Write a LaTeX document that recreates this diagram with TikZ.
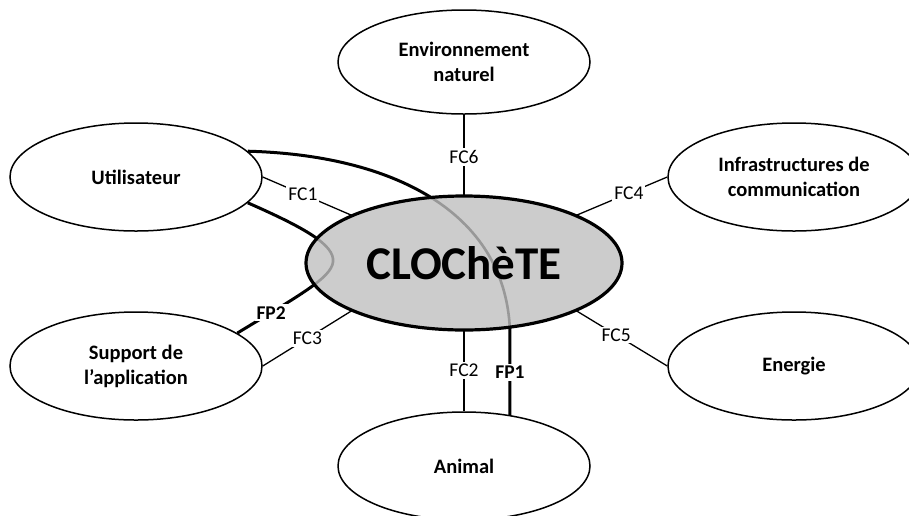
\documentclass[tikz,border=0pt]{standalone}
\usepackage{fontspec}
\setmainfont{Carlito}
\usetikzlibrary{shapes.geometric}
\definecolor{hubgray}{RGB}{204,204,204}
\definecolor{pathgray}{RGB}{152,152,152}

\begin{document}
\begin{tikzpicture}[x=1pt,y=-1pt,
  actor/.style={ellipse, draw, line width=1.5pt, fill=white,
    minimum width=252pt, minimum height=108pt, inner sep=0pt, align=center,
    font=\bfseries\fontsize{20.5}{25}\selectfont},
  hubshape/.style={ellipse, minimum width=316pt, minimum height=134pt, inner sep=0pt},
  fcline/.style={line width=1.3pt},
  fclabel/.style={fill=white, inner sep=2pt, font=\fontsize{19.5}{22}\selectfont},
  fpline/.style={line width=3pt},
  fpinner/.style={line width=2.6pt, draw=pathgray},
  fplabel/.style={fill=white, inner sep=2pt, font=\bfseries\fontsize{19.5}{22}\selectfont}
]
\useasboundingbox (0,0) rectangle (909,515);

% surrounding actors
\node[actor, minimum height=104pt] (env) at (464,62) {Environnement\\naturel};
\node[actor] (util) at (136,177) {Utilisateur};
\node[actor] (infra) at (794,177) {Infrastructures de\\communication};
\node[actor] (support) at (136,366) {Support de\\l’application};
\node[actor] (energie) at (794,366) {Energie};
\node[actor] (animal) at (464,466) {Animal};

% central system outline (placed first, painted afterwards)
\node[hubshape] (central) at (464,263) {};

% principal functions, black outside the system
\draw[fpline] (util.13) .. controls (390,155) and (505,210) .. (animal.48 |- central.south)
  -- node[fplabel] {FP1} (animal.48);
\draw[fpline] (util.-13) .. controls (305,228) and (335,245) .. (333,262)
  .. controls (331,278) and (300,295) .. node[fplabel, pos=0.8] {FP2} (support.18);

% system body
\fill[hubgray] (central.center) ellipse [x radius=158pt, y radius=67pt];

% constraint functions
\draw[fcline] (util.east) -- node[fclabel, pos=0.45] {FC1} (central.157);
\draw[fcline] (central.23) -- node[fclabel, pos=0.58] {FC4} (infra.west);
\draw[fcline] (support.east) -- node[fclabel, pos=0.5] {FC3} (central.203);
\draw[fcline] (central.-23) -- node[fclabel, pos=0.44] {FC5} (energie.west);
\draw[fcline] (env.south) -- node[fclabel, pos=0.52] {FC6} (central.north);
\draw[fcline] (central.south) -- node[fclabel] {FC2} (animal.north);

% the part of each principal function crossing the system is drawn in grey
\begin{scope}
  \clip (central.center) ellipse [x radius=158pt, y radius=67pt];
  \draw[fpinner] (util.13) .. controls (390,155) and (505,210) .. (animal.48 |- central.south);
  \draw[fpinner] (util.-13) .. controls (305,228) and (335,245) .. (333,262)
    .. controls (331,278) and (300,295) .. (support.18);
\end{scope}

% system border and name
\node[hubshape, draw, line width=3.2pt, font=\bfseries\fontsize{47}{52}\selectfont]
  (hubname) at (central.center) {CLOChèTE};
\end{tikzpicture}
\end{document}
